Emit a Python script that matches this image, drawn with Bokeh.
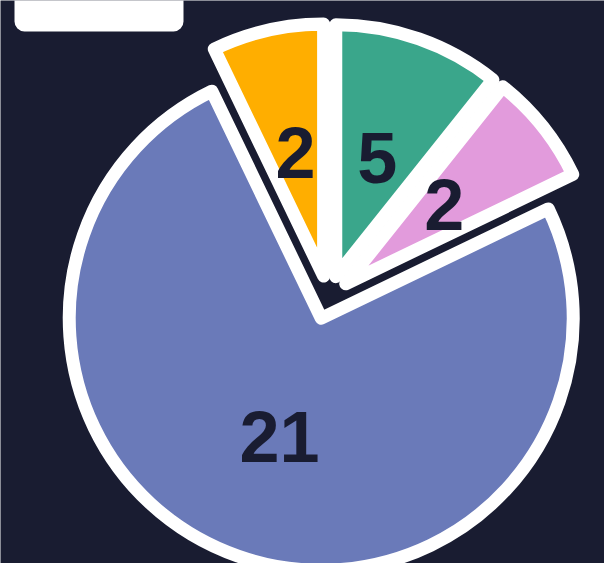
import math
from bokeh.plotting import figure
from bokeh.models import Range1d, BoxAnnotation, ColumnDataSource
from bokeh.core.properties import value
from bokeh.embed import file_html
from bokeh.resources import INLINE

# ---- data (clockwise from 12 o'clock) ----
categories = ["Teal", "Pink", "Blue", "Amber"]
values = [3, 2, 21, 2]
labels = ["5", "2", "21", "2"]
colors = ["#3aa68b", "#e29bdc", "#6a7ab9", "#ffae00"]

W, H = 604, 563
BG = "#191c31"
CX, CY = 328, H - 297      # pie centre (data units == pixels)
R = 252                    # radius
EXPLODE = 22               # offset of every slice along its bisector
LABEL_R = 126

total = sum(values)
xs, ys, starts, ends, lx, ly = [], [], [], [], [], []
cum = 0.0
for v in values:
    t1 = cum / total * 2 * math.pi
    cum += v
    t2 = cum / total * 2 * math.pi
    bis = (t1 + t2) / 2
    cx = CX + EXPLODE * math.sin(bis)
    cy = CY + EXPLODE * math.cos(bis)
    xs.append(cx)
    ys.append(cy)
    starts.append(math.pi / 2 - t2)
    ends.append(math.pi / 2 - t1)
    lx.append(cx + LABEL_R * math.sin(bis))
    ly.append(cy + LABEL_R * math.cos(bis))

src = ColumnDataSource(dict(x=xs, y=ys, start=starts, end=ends, color=colors,
                            lx=lx, ly=ly, label=labels, cat=categories))

p = figure(width=W, height=H, output_backend="svg", toolbar_location=None,
           x_range=Range1d(0, W), y_range=Range1d(0, H),
           min_border=0, min_border_left=0, min_border_right=0,
           min_border_top=0, min_border_bottom=0,
           background_fill_color=BG, border_fill_color=BG,
           outline_line_color=None)
p.axis.visible = False
p.grid.visible = False

p.wedge(x="x", y="y", radius=R, start_angle="start", end_angle="end",
        direction="anticlock", fill_color="color", line_color="white",
        line_width=13, line_join="round", source=src)

p.text(x="lx", y="ly", text="label", source=src,
       text_font=value("Liberation Sans"), text_font_style="bold",
       text_font_size="72px", text_color=BG,
       text_align="center", text_baseline="middle")

legend_box = BoxAnnotation(left=14, right=183, bottom=H - 31, top=H + 40,
                           fill_color="white", fill_alpha=1.0,
                           line_alpha=0, border_radius=10)
p.add_layout(legend_box)

open("out.html", "w").write(file_html(p, INLINE))
